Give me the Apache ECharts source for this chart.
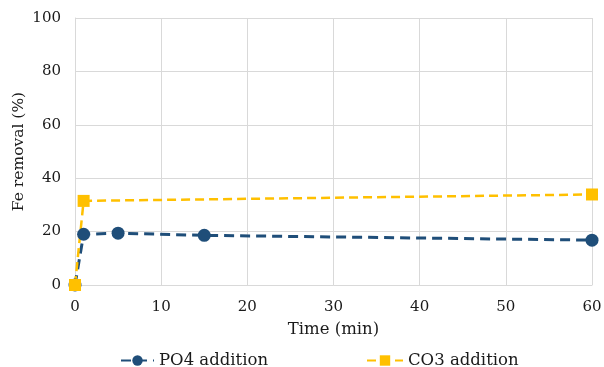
<!DOCTYPE html>
<html>
<head>
<meta charset="utf-8">
<script src="https://cdn.jsdelivr.net/npm/echarts@6/dist/echarts.min.js"></script>
<style>
  html, body { margin: 0; padding: 0; background: #fff; }
  #chart { width: 604px; height: 367px; }
</style>
</head>
<body>
<div id="chart"></div>
<script>
// Sampling times (min) and Fe removal (%) for each addition
const timePO4 = [0, 1, 5, 15, 60];
const removalPO4 = [0, 19.0, 19.4, 18.6, 16.8];
const timeCO3 = [0, 1, 60];
const removalCO3 = [0, 31.5, 33.9];
const seriesNames = ['PO4 addition', 'CO3 addition'];

const FONT = 'DejaVu Serif';
const TEXT = '#1a1a1a';
const pairs = (xs, ys) => xs.map((x, i) => [x, ys[i]]);

const chart = echarts.init(document.getElementById('chart'), null, { renderer: 'canvas' });
chart.setOption({
  animation: false,
  textStyle: { fontFamily: FONT },
  grid: { left: 75, right: 12, top: 18, bottom: 82, containLabel: false, outerBoundsMode: 'none' },
  xAxis: {
    type: 'value', min: 0, max: 60, interval: 10,
    name: 'Time (min)', nameLocation: 'middle', nameGap: 36, nameMoveOverlap: false,
    nameTextStyle: { fontFamily: FONT, fontSize: 16.5, color: TEXT },
    axisLine: { show: true, lineStyle: { color: '#d9d9d9', width: 1 } },
    axisTick: { show: false },
    axisLabel: { fontFamily: FONT, fontSize: 15, color: TEXT, margin: 15 },
    splitLine: { show: true, lineStyle: { color: '#d9d9d9', width: 1 } }
  },
  yAxis: {
    type: 'value', min: 0, max: 100, interval: 20,
    name: 'Fe removal (%)', nameLocation: 'middle', nameGap: 48, nameRotate: 90,
    nameMoveOverlap: false,
    nameTextStyle: { fontFamily: FONT, fontSize: 15.5, color: TEXT },
    axisLine: { show: true, lineStyle: { color: '#d9d9d9', width: 1 } },
    axisTick: { show: false },
    axisLabel: { fontFamily: FONT, fontSize: 15, color: TEXT, margin: 14 },
    splitLine: { show: true, lineStyle: { color: '#d9d9d9', width: 1 } }
  },
  legend: [
    {
      data: [seriesNames[0]], left: 115, top: 347,
      itemWidth: 33, itemHeight: 13,
      textStyle: { fontFamily: FONT, fontSize: 16.5, color: TEXT }
    },
    {
      data: [seriesNames[1]], left: 361, top: 347,
      itemWidth: 36, itemHeight: 13,
      textStyle: { fontFamily: FONT, fontSize: 16.5, color: TEXT }
    }
  ],
  series: [
    {
      name: seriesNames[0], type: 'line', data: pairs(timePO4, removalPO4),
      symbol: 'circle', symbolSize: 13,
      itemStyle: { color: '#1F4E79' },
      lineStyle: { color: '#1F4E79', width: 3, type: [10, 6] }
    },
    {
      name: seriesNames[1], type: 'line', data: pairs(timeCO3, removalCO3),
      symbol: 'rect', symbolSize: 12,
      itemStyle: { color: '#FFC000' },
      lineStyle: { color: '#FFC000', width: 2.5, type: [9, 5] }
    }
  ]
});
</script>
</body>
</html>
